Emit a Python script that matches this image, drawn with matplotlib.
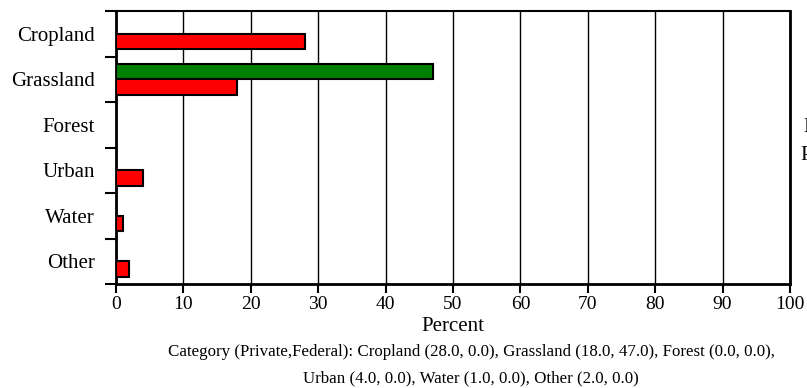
import numpy as np
from matplotlib import pyplot as plt
from matplotlib.ticker import FixedLocator, NullFormatter

categories = ['Cropland', 'Grassland', 'Forest', 'Urban', 'Water', 'Other']
private = [28.0, 18.0, 0.0, 4.0, 1.0, 2.0]
federal = [0.0, 47.0, 0.0, 0.0, 0.0, 0.0]
x_ticks = [0, 10, 20, 30, 40, 50, 60, 70, 80, 90, 100]

plt.rcParams['font.family'] = ['Liberation Serif', 'DejaVu Serif']

fig = plt.figure(figsize=(8.07, 3.88), dpi=100)
ax = fig.add_axes([116 / 807, 104 / 388, 674 / 807, 273 / 388])

pos = np.arange(len(categories))
bar_h = 0.34


def draw(values, offset, color):
    lw = [1.5 if v > 0 else 0 for v in values]
    ax.barh(pos + offset, values, height=bar_h, color=color,
            edgecolor='black', linewidth=lw, zorder=3)


draw(federal, -0.17, '#008000')
draw(private, 0.17, '#ff0000')

ax.set_xlim(0, 100)
ax.set_ylim(len(categories) - 0.5, -0.5)
ax.set_xticks(x_ticks)
ax.set_xticklabels([str(t) for t in x_ticks], fontsize=14)
ax.grid(axis='x', color='black', linewidth=1.0, zorder=1)

# boundary ticks on y, labels at band centres
ax.yaxis.set_major_locator(FixedLocator(np.arange(len(categories) + 1) - 0.5))
ax.yaxis.set_major_formatter(NullFormatter())
ax.yaxis.set_minor_locator(FixedLocator(pos))
ax.set_yticklabels(categories, minor=True, fontsize=15)
ax.tick_params(axis='y', which='major', length=8, width=1.5, direction='out')
ax.tick_params(axis='y', which='minor', length=0, pad=15)
ax.tick_params(axis='x', length=6.5, width=1.5, direction='out', pad=2)

for side in ['left', 'bottom', 'right']:
    ax.spines[side].set_linewidth(2)
ax.spines['top'].set_linewidth(1.5)

ax.set_xlabel('Percent', fontsize=15, labelpad=3)

parts = [f'{c} ({p:.1f}, {f:.1f})' for c, p, f in zip(categories, private, federal)]
line1 = 'Category (Private,Federal): ' + ', '.join(parts[:3]) + ','
line2 = ', '.join(parts[3:])
fig.text(471 / 807, 1 - 352 / 388, line1, ha='center', va='center', fontsize=12.2)
fig.text(471 / 807, 1 - 378 / 388, line2, ha='center', va='center', fontsize=12.2)

# legend text cut off at the right edge, as in the source image
fig.text(803 / 807, 1 - 127 / 388, 'Federal', ha='left', va='center', fontsize=15)
fig.text(800 / 807, 1 - 155 / 388, 'Private', ha='left', va='center', fontsize=15)

fig.savefig('out.png', dpi=100)
